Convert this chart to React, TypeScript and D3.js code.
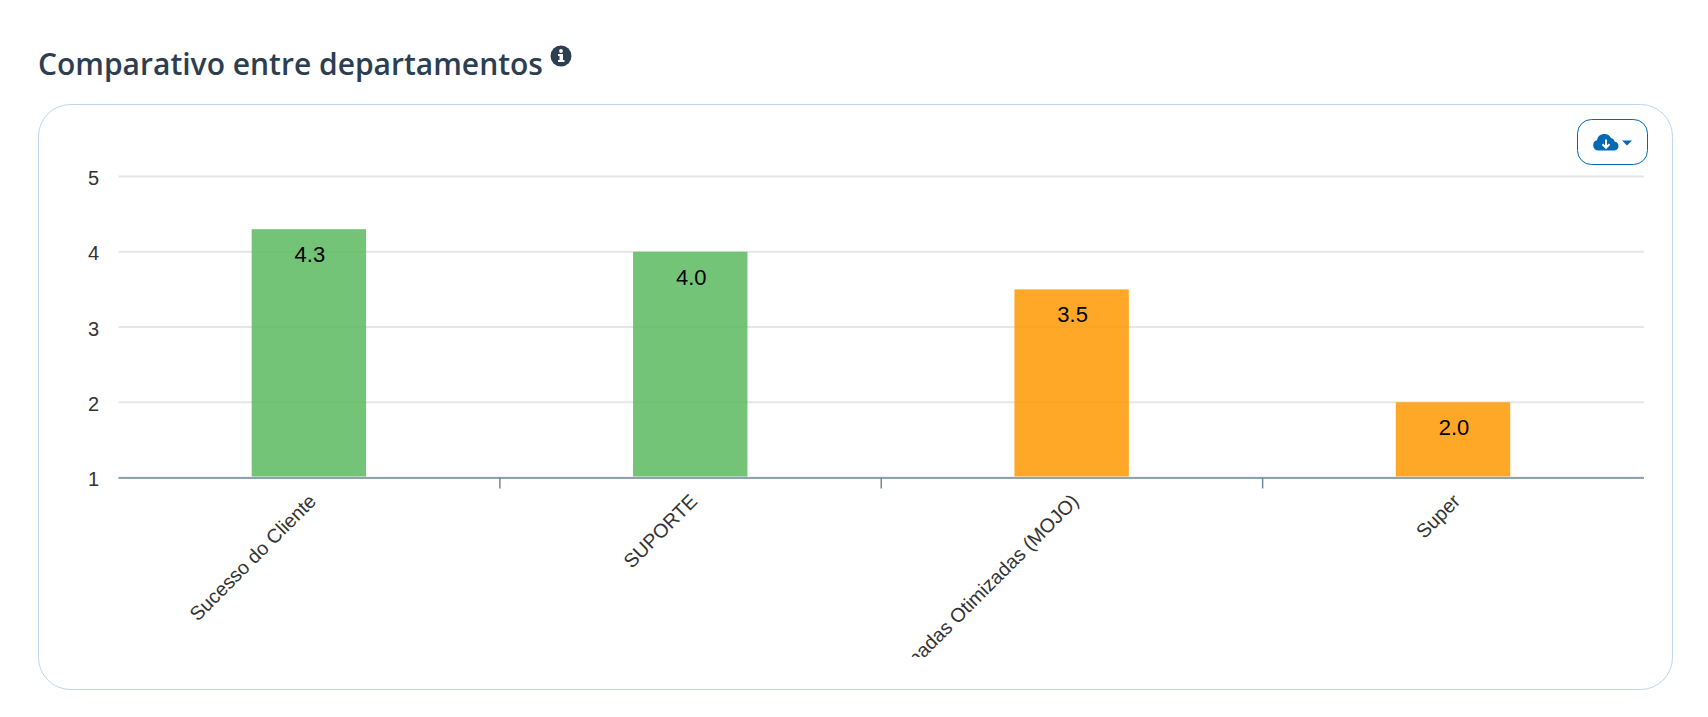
import React, { useEffect, useRef } from 'react';
import * as d3 from 'd3';

const departments = ['Sucesso do Cliente', 'SUPORTE', 'Jornadas Otimizadas (MOJO)', 'Super'];
const scores = [4.3, 4.0, 3.5, 2.0];
const barColors = ['#5cba5f', '#5cba5f', '#ff9800', '#ff9800'];
const yTicks = [1, 2, 3, 4, 5];

const width = 1708;
const height = 717;

const App: React.FC = () => {
  const ref = useRef<SVGSVGElement>(null);

  useEffect(() => {
    if (!ref.current) return;

    const svg = d3.select(ref.current);
    svg.selectAll('*').remove();

    const plot = { left: 118.5, right: 1644, top: 176.5, bottom: 477.5 };

    const x = d3.scaleBand<string>()
      .domain(departments)
      .range([plot.left, plot.right]);

    const y = d3.scaleLinear()
      .domain([1, 5])
      .range([plot.bottom, plot.top]);

    // page title
    svg.append('text')
      .attr('x', 38)
      .attr('y', 75)
      .attr('font-family', '"Open Sans"')
      .attr('font-weight', 600)
      .attr('font-size', 30)
      .attr('fill', '#2c3e50')
      .text('Comparativo entre departamentos');

    const info = svg.append('g').attr('transform', 'translate(561,56)');
    info.append('circle').attr('r', 10.5).attr('fill', '#2c3e50');
    info.append('rect').attr('x', -1.5).attr('y', -2).attr('width', 3.5).attr('height', 7).attr('fill', '#fff');
    info.append('rect').attr('x', -3).attr('y', -2).attr('width', 4).attr('height', 2).attr('fill', '#fff');
    info.append('rect').attr('x', -3).attr('y', 4).attr('width', 6.5).attr('height', 2).attr('fill', '#fff');
    info.append('circle').attr('cy', -5).attr('r', 1.9).attr('fill', '#fff');

    // card
    svg.append('rect')
      .attr('x', 38.5)
      .attr('y', 104.5)
      .attr('width', 1634)
      .attr('height', 585)
      .attr('rx', 32)
      .attr('fill', '#fff')
      .attr('stroke', '#bcd6f0')
      .attr('stroke-width', 1);

    // download button
    const btn = svg.append('g').attr('transform', 'translate(1577.5,119.5)');
    btn.append('rect')
      .attr('width', 70)
      .attr('height', 45)
      .attr('rx', 14)
      .attr('fill', '#fff')
      .attr('stroke', '#0069b4')
      .attr('stroke-width', 1);
    btn.append('path')
      .attr('d', 'M21 31 a5.2 5.2 0 0 1 -1.5 -10.2 a7.5 7.5 0 0 1 14 -2.4 a4.2 4.2 0 0 1 3.5 3.6 a4.6 4.6 0 0 1 0.5 9 Z')
      .attr('fill', '#0069b4');
    btn.append('path')
      .attr('d', 'M28.5 20 v8 M25 24.8 l3.5 3.5 l3.5 -3.5')
      .attr('fill', 'none')
      .attr('stroke', '#fff')
      .attr('stroke-width', 2);
    btn.append('path')
      .attr('d', 'M44.5 21 h10 l-5 5 Z')
      .attr('fill', '#0069b4');

    // horizontal grid and y labels
    svg.append('g')
      .selectAll('line')
      .data(yTicks)
      .join('line')
      .attr('x1', plot.left)
      .attr('x2', plot.right)
      .attr('y1', d => y(d))
      .attr('y2', d => y(d))
      .attr('stroke', '#e6e6e6')
      .attr('stroke-width', 2);

    svg.append('g')
      .selectAll('text')
      .data(yTicks)
      .join('text')
      .attr('x', 93.5)
      .attr('y', d => y(d) + 8.5)
      .attr('text-anchor', 'middle')
      .attr('font-family', '"Liberation Sans"')
      .attr('font-size', 20)
      .attr('fill', '#333')
      .text(d => d);

    // bars
    const barWidth = x.bandwidth() * 0.3;
    const barX = (d: string) => (x(d) as number) + (x.bandwidth() - barWidth) / 2 - 0.3;

    svg.append('g')
      .selectAll('rect')
      .data(departments)
      .join('rect')
      .attr('x', d => barX(d))
      .attr('y', (d, i) => y(scores[i]))
      .attr('width', barWidth)
      .attr('height', (d, i) => y(1) - y(scores[i]) - 1)
      .attr('fill', (d, i) => barColors[i])
      .attr('fill-opacity', 0.85);

    svg.append('g')
      .selectAll('text')
      .data(scores)
      .join('text')
      .attr('x', (d, i) => barX(departments[i]) + barWidth / 2 + 1)
      .attr('y', d => y(d) + 33)
      .attr('text-anchor', 'middle')
      .attr('font-family', '"Liberation Sans"')
      .attr('font-size', 22)
      .attr('fill', '#000')
      .text(d => d.toFixed(1));

    // x axis
    svg.append('line')
      .attr('x1', plot.left)
      .attr('x2', plot.right)
      .attr('y1', plot.bottom + 0.5)
      .attr('y2', plot.bottom + 0.5)
      .attr('stroke', '#6f8a9c')
      .attr('stroke-width', 1.5);

    svg.append('g')
      .selectAll('line')
      .data(departments.slice(1))
      .join('line')
      .attr('x1', d => x(d) as number)
      .attr('x2', d => x(d) as number)
      .attr('y1', plot.bottom)
      .attr('y2', plot.bottom + 11)
      .attr('stroke', '#6f8a9c')
      .attr('stroke-width', 1.5);

    // long labels get cut by the chart area
    const defs = svg.append('defs');
    defs.append('clipPath')
      .attr('id', 'label-clip')
      .append('rect')
      .attr('x', 0)
      .attr('y', 480)
      .attr('width', width)
      .attr('height', 177);

    svg.append('g')
      .attr('clip-path', 'url(#label-clip)')
      .selectAll('text')
      .data(departments)
      .join('text')
      .attr('transform', d => `translate(${(x(d) as number) + x.bandwidth() / 2 + 8},${plot.bottom + 25}) rotate(-45)`)
      .attr('text-anchor', 'end')
      .attr('font-family', '"Liberation Sans"')
      .attr('font-size', 19.6)
      .attr('fill', '#333')
      .text(d => d);
  }, []);

  return (
    <svg
      ref={ref}
      width={width}
      height={height}
      style={{ position: 'absolute', left: 0, top: 0, background: '#fff' }}
    ></svg>
  );
};

export default App;
